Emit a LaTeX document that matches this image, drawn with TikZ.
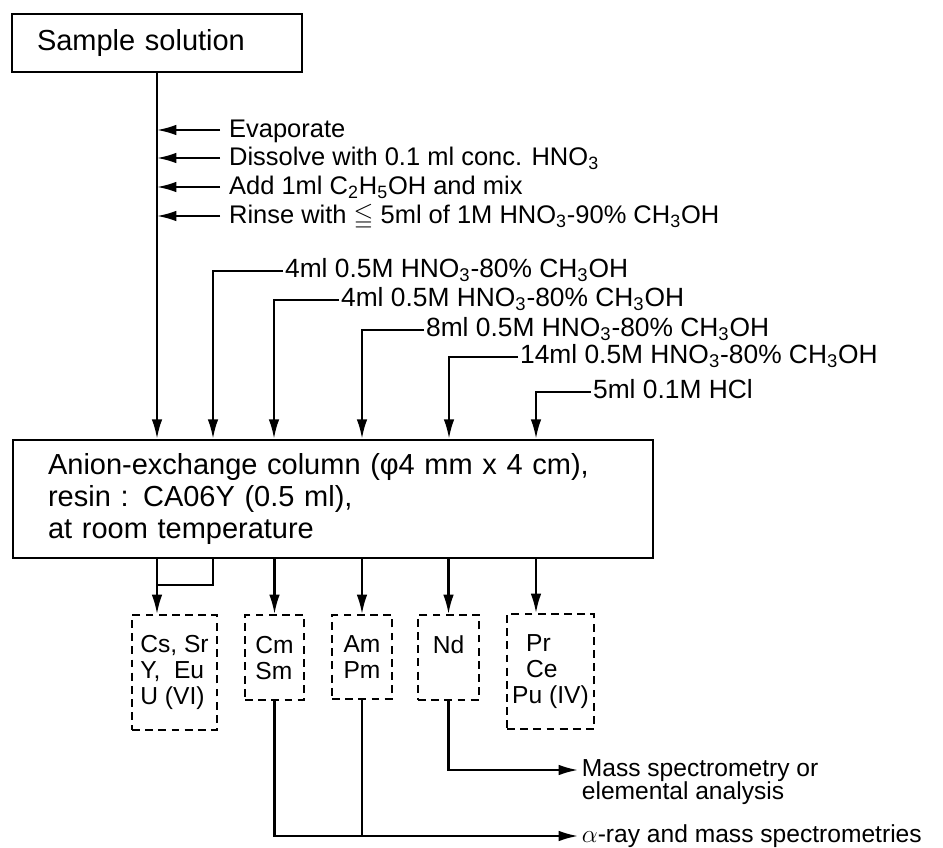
\documentclass[tikz,border=0pt]{standalone}
\usepackage{amssymb}
\usepackage{fontspec}
\setmainfont{Liberation Sans}
\usetikzlibrary{arrows.meta,positioning,calc}
\tikzset{
  flow/.style={-{Latex[length=11pt,width=6pt]},line width=1.2pt},
  link/.style={line width=1.2pt},
  stage/.style={draw,line width=1.5pt,inner ysep=0pt,align=left,font=\fontsize{16.5}{18.2}\selectfont},
  treat/.style={anchor=west,inner xsep=5pt,inner ysep=0pt,text height=10pt,text depth=1.5pt,font=\fontsize{14.5}{18}\selectfont},
  eluent/.style={anchor=west,inner xsep=1pt,inner ysep=0pt,text height=9pt,text depth=2pt,font=\fontsize{15}{18}\selectfont},
  fraction/.style={draw,dash pattern=on 4.5pt off 3pt,line width=1.2pt,anchor=north,align=left,inner sep=0pt,font=\fontsize{14}{14.8}\selectfont},
  result/.style={anchor=west,inner xsep=2pt,inner ysep=0pt,text height=10pt,text depth=2.5pt,font=\fontsize{14}{16}\selectfont}
}
\begin{document}
\begin{tikzpicture}[x=0.02cm,y=-0.02cm]
\useasboundingbox (0,0) rectangle (943,848);
\node[stage,text width=4.8cm,inner xsep=0.5cm,minimum height=1.16cm] (sample) at (157,43) {Sample solution};
\node[stage,text width=11.4cm,inner xsep=0.7cm,minimum height=2.36cm] (column) at (333,499)
 {Anion-exchange column (φ4 mm x 4 cm),\\resin : CA06Y (0.5 ml),\\at room temperature};
\foreach \n/\x in {A/157,B/213,C/274,D/362,E/449,F/536}
 \coordinate (tap\n) at (\x,0);
\draw[flow] (sample.south) -- (sample.south |- column.north);
\foreach \y/\name/\txt in {130/evap/Evaporate,
 158/dissolve/{Dissolve with 0.1 ml conc. HNO\textsubscript{3}},
 187/addeth/{Add 1ml C\textsubscript{2}H\textsubscript{5}OH and mix},
 216/rinse/{Rinse with $\leqq$ 5ml of 1M HNO\textsubscript{3}-90\% CH\textsubscript{3}OH}}{
 \node[treat] (\name) at (220,\y) {\txt};
 \draw[flow] (\name.west) -- (\name.west -| tapA);
}
% eluents fed onto the column one after another
\foreach \y/\x/\t/\name/\txt in {271/283/B/eluA/{4ml 0.5M HNO\textsubscript{3}-80\% CH\textsubscript{3}OH},
 300/339/C/eluB/{4ml 0.5M HNO\textsubscript{3}-80\% CH\textsubscript{3}OH},
 330/424/D/eluC/{8ml 0.5M HNO\textsubscript{3}-80\% CH\textsubscript{3}OH},
 357/518/E/eluD/{14ml 0.5M HNO\textsubscript{3}-80\% CH\textsubscript{3}OH},
 392/591/F/eluE/{5ml 0.1M HCl}}{
 \node[eluent] (\name) at (\x,\y) {\txt};
 \draw[flow] (\name.west) -| (column.north -| tap\t);
}
\node[fraction,minimum width=1.7cm,minimum height=2.3cm] (cs) at (174.5,614) {Cs, Sr\\Y,\ \ Eu\\U (VI)};
\node[fraction,minimum width=1.18cm,minimum height=1.7cm] (cm) at (274.5,614) {Cm\\Sm};
\node[fraction,minimum width=1.2cm,minimum height=1.68cm] (am) at (362,614) {Am\\Pm};
\node[fraction,minimum width=1.22cm,minimum height=1.7cm] (nd) at (448.5,614) {Nd\\\phantom{Nd}};
\node[fraction,minimum width=1.74cm,minimum height=2.3cm] (pr) at (550.5,613) {\hspace{0.28cm}Pr\\\hspace{0.28cm}Ce\\Pu (IV)};
\coordinate (merge) at (157,585);
\draw[link] (column.south -| tapB) |- (merge);
\draw[flow] (column.south -| tapA) -- (cs.north -| tapA);
\foreach \n in {cm,am,nd}
 \draw[flow] (column.south -| \n.north) -- (\n.north);
\draw[flow] (column.south -| tapF) -- (pr.north -| tapF);
\node[result] (mass) at (578,770) {Mass spectrometry or};
\node[result,below=0pt of mass.south west,anchor=north west] (massb) {elemental analysis};
\node[result] (alpha) at (578,836) {$\alpha$-ray and mass spectrometries};
\draw[flow] (nd.south) |- (mass.west);
\draw[flow] (cm.south) |- (alpha.west);
\draw[link] (am.south) -- (am.south |- alpha.west);
\end{tikzpicture}
\end{document}
